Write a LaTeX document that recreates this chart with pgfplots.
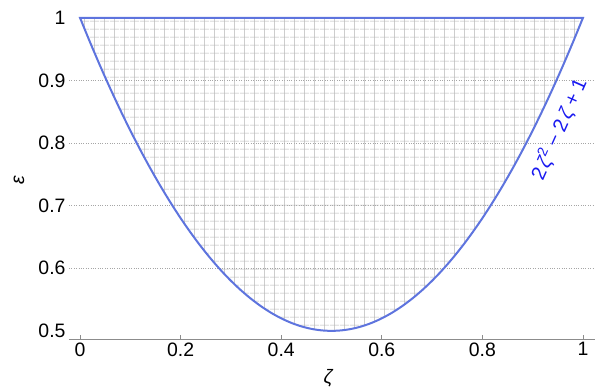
\documentclass[border=0pt]{standalone}
\usepackage{fontspec}
\setmainfont{Liberation Sans}
\usepackage{pgfplots}
\usepackage{pgfplotstable}
\pgfplotsset{compat=1.18}
\usetikzlibrary{patterns.meta}
\definecolor{curve}{RGB}{94,116,222}
\definecolor{lbl}{RGB}{25,25,240}
\tikzdeclarepattern{
  name=mesh,
  type=uncolored,
  bounding box={(0,0) and (10.06bp,7.875bp)},
  tile size={(10.06bp,7.875bp)},
  code={
    \draw[line width=0.55pt] (0,3.9375bp) -- (10.06bp,3.9375bp);
    \draw[line width=0.55pt] (5.03bp,0) -- (5.03bp,7.875bp);
  }
}
\pgfplotstableread{
x y
0 1
0.02 0.9608
0.04 0.9232
0.06 0.8872
0.08 0.8528
0.10 0.82
0.12 0.7888
0.14 0.7592
0.16 0.7312
0.18 0.7048
0.20 0.68
0.22 0.6568
0.24 0.6352
0.26 0.6152
0.28 0.5968
0.30 0.58
0.32 0.5648
0.34 0.5512
0.36 0.5392
0.38 0.5288
0.40 0.52
0.42 0.5128
0.44 0.5072
0.46 0.5032
0.48 0.5008
0.50 0.5
0.52 0.5008
0.54 0.5032
0.56 0.5072
0.58 0.5128
0.60 0.52
0.62 0.5288
0.64 0.5392
0.66 0.5512
0.68 0.5648
0.70 0.58
0.72 0.5968
0.74 0.6152
0.76 0.6352
0.78 0.6568
0.80 0.68
0.82 0.7048
0.84 0.7312
0.86 0.7592
0.88 0.7888
0.90 0.82
0.92 0.8528
0.94 0.8872
0.96 0.9232
0.98 0.9608
1 1
}\curvedata
\begin{document}
\begin{tikzpicture}
\path[use as bounding box] (-69bp,-53bp) rectangle (532bp,339bp);
\begin{axis}[
  at={(0,0)}, anchor=south west,
  width=526bp, height=323bp, scale only axis,
  xmin=-0.022, xmax=1.024, ymin=0.487, ymax=1.003,
  axis x line=bottom, axis y line=left,
  x axis line style={-, draw=black!45, line width=0.8pt},
  y axis line style={draw=none},
  xtick={0,0.2,0.4,0.6,0.8,1},
  ytick={0.5,1},
  extra y ticks={0.6,0.7,0.8,0.9},
  extra y tick style={grid=major, major tick length=0pt},
  grid style={dotted, black!35, line width=0.6pt},
  tick align=inside,
  major tick length=4bp,
  x tick style={draw=black!45, line width=0.6pt},
  y tick style={draw=none},
  tick label style={font=\fontsize{19.5}{22}\selectfont},
  /pgf/number format/assume math mode=true,
  clip=false,
]
\addplot[draw=curve, line width=2bp, pattern=mesh, pattern color=black!30, smooth] table[x=x,y=y] {\curvedata} -- cycle;
\node[text=lbl, rotate=66, inner sep=0pt, font=\fontsize{20}{22}\selectfont] at (axis cs:0.952,0.822) {2\kern3bp{\itshape ζ}\textsuperscript{2}\kern5bp−\kern5bp2\kern3bp{\itshape ζ}\kern5bp+\kern5bp1};
\node[font=\fontsize{19.5}{22}\selectfont, anchor=center] at ([xshift=-4bp, yshift=-39bp]rel axis cs:0.5,0) {\itshape ζ};
\node[font=\fontsize{19.5}{22}\selectfont, anchor=center, rotate=90] at ([xshift=-50bp, yshift=-3bp]rel axis cs:0,0.5) {\itshape ε};
\end{axis}
\end{tikzpicture}
\end{document}
